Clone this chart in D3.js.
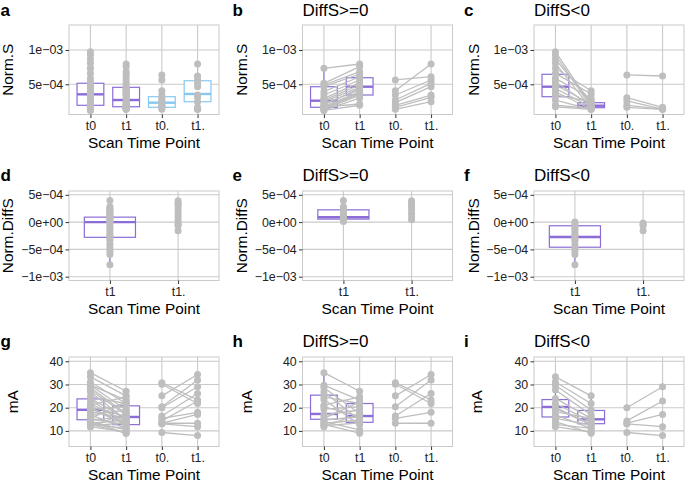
<!DOCTYPE html>
<html><head><meta charset="utf-8">
<script src="https://cdn.jsdelivr.net/npm/d3@7"></script>
<style>
body{margin:0;background:#fff}
svg{display:block}
text{font-family:"Liberation Sans",Arial,Helvetica,sans-serif}
</style>
</head><body>
<svg id="chart" width="685" height="481"></svg>
<script>
// ---------------- DATA ----------------
const timePoints4 = ["t0", "t1", "t0.", "t1."];
const timePoints2 = ["t1", "t1."];
const panelLetters = ["a", "b", "c", "d", "e", "f", "g", "h", "i"];
const panelTitles = ["", "DiffS>=0", "DiffS<0"];
const yTitles = ["Norm.S", "Norm.DiffS", "mA"];
const xTitle = "Scan Time Point";

// Norm.S (values in units of 1e-4), paired by index
const normS_pos_t0    = [7.33, 5.14, 4.90, 4.65, 3.92, 3.44, 2.96, 2.70, 2.47, 2.20, 1.98, 1.80, 1.64, 1.50, 1.40, 1.25, 1.70, 1.20];
const normS_pos_t1    = [7.96, 7.57, 6.84, 6.50, 6.10, 5.63, 5.24, 4.90, 4.56, 4.17, 4.40, 3.90, 3.70, 3.60, 3.40, 3.00, 2.13, 1.95];
const normS_pos_t0dot = [5.63, 4.07, 3.44, 2.71, 2.32, 1.94, 1.65, 1.36];
const normS_pos_t1dot = [6.11, 7.96, 5.63, 5.14, 4.65, 3.44, 3.10, 2.47];
const normS_neg_t0    = [9.75, 9.27, 8.64, 8.06, 7.33, 6.60, 5.87, 5.38, 4.90, 4.41, 3.92, 3.44, 2.71, 1.98, 1.73];
const normS_neg_t1    = [2.00, 1.70, 2.50, 1.50, 4.07, 3.59, 2.96, 1.84, 2.13, 1.65, 1.40, 2.46, 1.36, 1.50, 1.36];
const normS_neg_t0dot = [6.36, 3.05, 2.57, 1.98, 1.65];
const normS_neg_t1dot = [6.21, 1.65, 1.40, 1.36, 1.36];

// Norm.DiffS (values in units of 1e-4)
const diffS_pos_t1    = [3.95, 2.85, 2.60, 2.37, 2.10, 1.94, 1.70, 1.46, 1.20, 1.03, 0.85, 0.61, 0.40, 0.12];
const diffS_pos_t1dot = [3.90, 3.50, 3.34, 2.85, 2.25, 1.64, 1.03, 0.43];
const diffS_neg_t1    = [0.00, -0.30, -0.79, -1.20, -1.52, -2.10, -2.40, -2.73, -3.10, -3.40, -4.10, -4.70, -5.34, -5.95, -7.80];
const diffS_neg_t1dot = [-0.18, -0.43, -0.67, -1.58];

// mA, paired by index
const mA_pos_t0    = [35.1, 29.7, 28.6, 26.8, 24.7, 23.5, 21.1, 20.5, 19.4, 16.9, 15.4, 14.6, 14.0, 13.3, 12.8, 12.2, 11.8];
const mA_pos_t1    = [27.1, 23.3, 17.5, 14.7, 21.8, 12.6, 24.7, 16.1, 20.4, 19.0, 22.5, 16.1, 10.4, 14.7, 9.0, 13.5, 17.5];
const mA_pos_t0dot = [30.8, 30.1, 25.1, 20.4, 16.4, 15.4, 13.3];
const mA_pos_t1dot = [23.3, 21.8, 34.3, 31.9, 26.1, 18.0, 13.3];
const mA_neg_t0    = [33.3, 31.1, 29.7, 27.6, 24.0, 21.8, 20.0, 19.7, 18.3, 16.9, 15.4, 14.0, 12.8, 11.8];
const mA_neg_t1    = [25.1, 21.8, 19.0, 16.9, 15.4, 14.0, 13.0, 12.6, 15.4, 11.1, 12.6, 9.0, 11.1, 9.5];
const mA_neg_t0dot = [20.0, 14.3, 13.3, 13.0, 9.3];
const mA_neg_t1dot = [29.0, 22.9, 17.1, 11.8, 8.0];

// Boxplot quartiles [Q1, median, Q3]
const boxA = {"t0": [1.94, 3.54, 5.15], "t1": [1.73, 2.71, 4.56], "t0.": [1.65, 2.32, 3.19], "t1.": [2.46, 3.59, 5.52]};
const boxB = {"t0": [1.65, 2.61, 4.65], "t1": [3.44, 4.65, 5.96]};
const boxC = {"t0": [3.19, 4.65, 6.46], "t1": [1.59, 1.88, 2.32]};
const boxD = {"t1": [-2.79, 0.00, 0.91]};
const boxE = {"t1": [0.55, 0.90, 2.25]};
const boxF = {"t1": [-4.60, -2.73, -0.67]};
const boxG = {"t0": [14.8, 19.1, 23.8], "t1": [12.7, 16.0, 20.8]};
const boxH = {"t0": [15.0, 17.3, 25.4], "t1": [13.7, 16.4, 21.8]};
const boxI = {"t0": [16.0, 20.3, 23.5], "t1": [13.1, 15.0, 18.8]};

// axis ticks and labels
const normSTicks = [5, 10];
const normSTickLabels = ["5e\u221204", "1e\u221203"];
const diffSTicks = [-10, -5, 0, 5];
const diffSTickLabels = ["\u22121e\u221203", "\u22125e\u221204", "0e+00", "5e\u221204"];
const mATicks = [10, 20, 30, 40];
const mATickLabels = ["10", "20", "30", "40"];

// ---------------- LAYOUT / STYLE ----------------
const colLeft = [69, 302.5, 534];
const rowTop = [25, 191, 357];
const PW = 150, PH = 89.5;
const yDomains = [[0.6, 13.64], [-10.7, 5.7], [3.27, 41.85]];
const letterX = [0.5, 232.5, 464];
const headBase = [15.6, 180.7, 346.5];
const headSize = 17;
const yTitleX = [[13, 247, 479], [13, 247, 479], [17.5, 251.5, 482]];
const GRID = "#cacaca", PTC = "#bebebe", PURPLE = "#8c6dd7", BLUE = "#86c8f2", TICKC = "#333";

const svg = d3.select("#chart");

function boxStats(q, values) {
  const [q1, med, q3] = q, iqr = q3 - q1;
  const lo = d3.min(values.filter(v => v >= q1 - 1.5 * iqr));
  const hi = d3.max(values.filter(v => v <= q3 + 1.5 * iqr));
  return {q1, med, q3, lo, hi};
}

function panel(o) {
  const x0 = colLeft[o.col], y0 = rowTop[o.row];
  const x = d3.scalePoint().domain(o.cats).range([x0, x0 + PW]).padding(0.6);
  const y = d3.scaleLinear().domain(yDomains[o.row]).range([y0 + PH, y0]);
  const g = svg.append("g");
  const bw = x.step() * 0.75;

  g.append("rect").attr("x", x0).attr("y", y0).attr("width", PW).attr("height", PH).attr("fill", "#fff");
  // grid
  g.selectAll(".gh").data(o.ticks).join("line")
    .attr("x1", x0).attr("x2", x0 + PW).attr("y1", d => y(d)).attr("y2", d => y(d))
    .attr("stroke", GRID).attr("stroke-width", 1.1);
  g.selectAll(".gv").data(o.cats).join("line")
    .attr("x1", d => x(d)).attr("x2", d => x(d)).attr("y1", y0).attr("y2", y0 + PH)
    .attr("stroke", GRID).attr("stroke-width", 1.1);
  g.append("rect").attr("x", x0).attr("y", y0).attr("width", PW).attr("height", PH)
    .attr("fill", "none").attr("stroke", GRID).attr("stroke-width", 1);

  // axes
  const ay = g.append("g").attr("transform", `translate(${x0},0)`)
    .call(d3.axisLeft(y).tickValues(o.ticks).tickFormat((d, i) => o.tickLabels[i]).tickSize(3.5).tickPadding(2.3));
  ay.select(".domain").remove();
  ay.selectAll("line").attr("stroke", TICKC);
  ay.selectAll("text").attr("font-size", 12.4).attr("fill", "#222").attr("font-family", '"Liberation Sans",Arial,sans-serif');
  const ax = g.append("g").attr("transform", `translate(0,${y0 + PH})`)
    .call(d3.axisBottom(x).tickSize(3.5).tickPadding(3.2));
  ax.select(".domain").remove();
  ax.selectAll("line").attr("stroke", TICKC);
  ax.selectAll("text").attr("font-size", 12.4).attr("fill", "#222").attr("font-family", '"Liberation Sans",Arial,sans-serif');

  // boxes
  (o.boxes || []).forEach(b => {
    const s = boxStats(b.q, b.values), cx = x(b.cat);
    const bg = g.append("g").attr("stroke", b.color).attr("fill", "none");
    bg.append("line").attr("x1", cx).attr("x2", cx).attr("y1", y(s.hi)).attr("y2", y(s.q3)).attr("stroke-width", 1.1);
    bg.append("line").attr("x1", cx).attr("x2", cx).attr("y1", y(s.q1)).attr("y2", y(s.lo)).attr("stroke-width", 1.1);
    bg.append("rect").attr("x", cx - bw / 2).attr("width", bw).attr("y", y(s.q3)).attr("height", y(s.q1) - y(s.q3))
      .attr("fill", "#fff").attr("stroke-width", 1.2);
    bg.append("line").attr("x1", cx - bw / 2).attr("x2", cx + bw / 2).attr("y1", y(s.med)).attr("y2", y(s.med)).attr("stroke-width", 2.4);
  });

  // paired lines
  (o.pairs || []).forEach(p => {
    g.selectAll(null).data(p.a.map((v, i) => [v, p.b[i]])).join("line")
      .attr("x1", x(p.ca)).attr("x2", x(p.cb)).attr("y1", d => y(d[0])).attr("y2", d => y(d[1]))
      .attr("stroke", PTC).attr("stroke-width", 1.3);
  });

  // points
  o.points.forEach(p => {
    g.selectAll(null).data(p.values).join("circle")
      .attr("cx", x(p.cat)).attr("cy", d => y(d)).attr("r", 3.5).attr("fill", PTC);
  });

  // texts
  svg.append("text").attr("x", letterX[o.col]).attr("y", headBase[o.row]).attr("font-size", headSize)
    .attr("font-weight", "bold").attr("fill", "#000").text(panelLetters[o.row * 3 + o.col]);
  if (panelTitles[o.col]) svg.append("text").attr("x", x0).attr("y", headBase[o.row]).attr("font-size", headSize)
    .attr("fill", "#000").text(panelTitles[o.col]);
  svg.append("text").attr("x", x0 + PW / 2).attr("y", y0 + PH + 33).attr("text-anchor", "middle")
    .attr("font-size", 15.4).attr("fill", "#000").text(xTitle);
  svg.append("text").attr("transform", `translate(${yTitleX[o.row][o.col]},${y0 + PH / 2}) rotate(-90)`)
    .attr("text-anchor", "middle").attr("font-size", 15.4).attr("fill", "#000").text(yTitles[o.row]);
}

// Row 1 : Norm.S
const aAll = {
  "t0": normS_pos_t0.concat(normS_neg_t0), "t1": normS_pos_t1.concat(normS_neg_t1),
  "t0.": normS_pos_t0dot.concat(normS_neg_t0dot), "t1.": normS_pos_t1dot.concat(normS_neg_t1dot)
};
panel({row: 0, col: 0, cats: timePoints4, ticks: normSTicks, tickLabels: normSTickLabels,
  boxes: timePoints4.map((c, i) => ({cat: c, q: boxA[c], values: aAll[c], color: i < 2 ? PURPLE : BLUE})),
  points: timePoints4.map(c => ({cat: c, values: aAll[c]}))});
function pairedPanel(row, col, t0, t1, t0d, t1d, box) {
  panel({row, col, cats: timePoints4,
    ticks: row === 0 ? normSTicks : mATicks, tickLabels: row === 0 ? normSTickLabels : mATickLabels,
    boxes: [{cat: "t0", q: box["t0"], values: t0, color: PURPLE}, {cat: "t1", q: box["t1"], values: t1, color: PURPLE}],
    pairs: [{ca: "t0", cb: "t1", a: t0, b: t1}, {ca: "t0.", cb: "t1.", a: t0d, b: t1d}],
    points: [{cat: "t0", values: t0}, {cat: "t1", values: t1}, {cat: "t0.", values: t0d}, {cat: "t1.", values: t1d}]});
}
pairedPanel(0, 1, normS_pos_t0, normS_pos_t1, normS_pos_t0dot, normS_pos_t1dot, boxB);
pairedPanel(0, 2, normS_neg_t0, normS_neg_t1, normS_neg_t0dot, normS_neg_t1dot, boxC);

// Row 2 : Norm.DiffS
function diffPanel(col, t1, t1d, box) {
  panel({row: 1, col, cats: timePoints2, ticks: diffSTicks, tickLabels: diffSTickLabels,
    boxes: [{cat: "t1", q: box["t1"], values: t1, color: PURPLE}],
    points: [{cat: "t1", values: t1}, {cat: "t1.", values: t1d}]});
}
diffPanel(0, diffS_pos_t1.concat(diffS_neg_t1), diffS_pos_t1dot.concat(diffS_neg_t1dot), boxD);
diffPanel(1, diffS_pos_t1, diffS_pos_t1dot, boxE);
diffPanel(2, diffS_neg_t1, diffS_neg_t1dot, boxF);

// Row 3 : mA
pairedPanel(2, 0, mA_pos_t0.concat(mA_neg_t0), mA_pos_t1.concat(mA_neg_t1),
  mA_pos_t0dot.concat(mA_neg_t0dot), mA_pos_t1dot.concat(mA_neg_t1dot), boxG);
pairedPanel(2, 1, mA_pos_t0, mA_pos_t1, mA_pos_t0dot, mA_pos_t1dot, boxH);
pairedPanel(2, 2, mA_neg_t0, mA_neg_t1, mA_neg_t0dot, mA_neg_t1dot, boxI);
</script>
</body></html>
